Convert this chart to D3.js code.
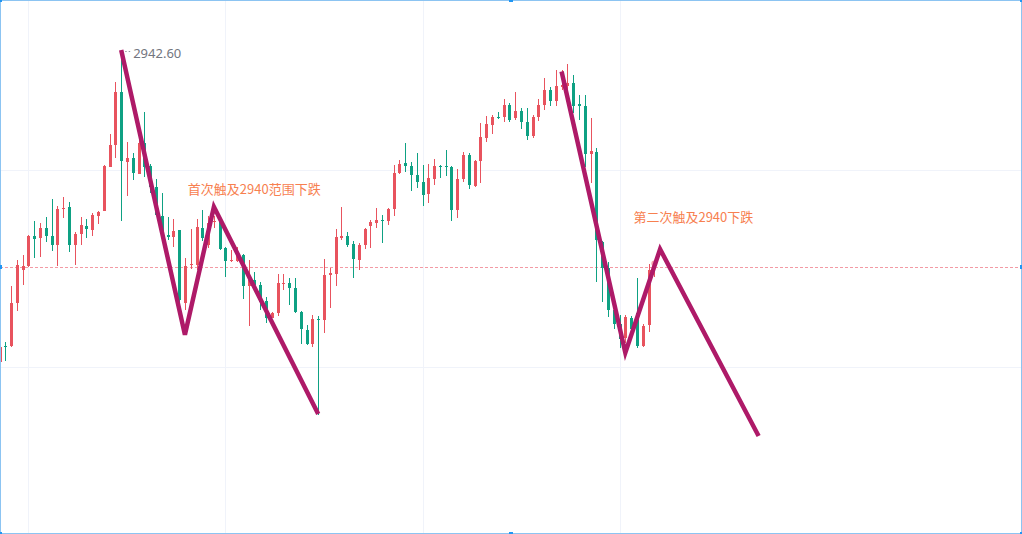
<!DOCTYPE html>
<html>
<head>
<meta charset="utf-8">
<title>K线</title>
<script src="https://cdn.jsdelivr.net/npm/d3@7/dist/d3.min.js"></script>
<style>
  html, body { margin:0; padding:0; background:#fff; overflow:hidden; }
  #chart-area { width:1022px; height:534px; }
</style>
</head>
<body>
<div id="chart-area"></div>
<script>
/*
*   K线图 + 手绘走势线
*/

// candle values, one per bar
var opens = [2934.80,2935.21,2935.20,2936.28,2937.10,2937.19,2937.95,2937.91,2938.14,2937.95,
  2937.73,2938.62,2938.68,2937.73,2938.00,2938.19,2938.10,2938.46,2938.58,2939.68,
  2940.23,2941.55,2939.80,2939.90,2939.51,2940.28,2939.70,2939.18,2938.45,2937.98,
  2937.93,2938.09,2936.28,2937.22,2937.23,2938.16,2937.73,2938.29,2938.33,2937.66,
  2937.33,2937.33,2937.48,2936.71,2936.85,2936.73,2936.33,2935.91,2936.02,2936.74,
  2936.77,2936.66,2936.06,2935.60,2935.25,2935.88,2935.86,2936.98,2936.99,2937.91,
  2937.95,2937.75,2937.35,2937.73,2938.21,2938.28,2938.35,2938.33,2938.63,2939.53,
  2939.78,2939.70,2939.48,2939.30,2939.00,2939.38,2939.71,2939.71,2939.68,2938.61,
  2939.38,2939.98,2939.21,2939.83,2940.41,2940.73,2940.92,2940.93,2941.23,2940.89,
  2941.08,2940.80,2940.45,2940.93,2941.23,2941.60,2941.33,2941.68,2941.70,2941.78,
  2941.24,2941.20,2940.01,2940.05,2937.81,2937.16,2936.10,2935.74,2935.39,2935.89,
  2936.02,2935.20,2935.73,2937.15];

var highs = [2935.25,2935.31,2936.70,2937.35,2937.48,2937.98,2938.33,2938.28,2938.43,2938.88,
  2938.69,2938.93,2938.79,2938.05,2938.43,2938.38,2938.53,2938.58,2939.73,2940.50,
  2941.79,2942.60,2940.30,2940.03,2940.35,2941.05,2939.75,2939.38,2939.03,2938.43,
  2938.38,2938.11,2937.40,2938.13,2938.37,2938.60,2938.45,2938.45,2938.35,2937.68,
  2937.59,2937.68,2937.50,2937.34,2937.05,2936.81,2936.43,2936.06,2936.99,2936.99,
  2936.89,2936.89,2936.08,2935.73,2935.98,2935.96,2937.38,2937.15,2938.13,2938.68,
  2938.05,2937.83,2937.78,2938.15,2938.35,2938.65,2938.48,2938.65,2939.72,2939.85,
  2940.27,2939.81,2940.02,2939.72,2939.75,2939.87,2939.73,2940.10,2939.70,2939.63,
  2940.05,2940.03,2939.85,2940.78,2940.96,2940.98,2941.05,2941.37,2941.28,2941.54,
  2941.14,2941.14,2940.98,2941.37,2941.90,2941.68,2942.10,2942.10,2942.25,2941.98,
  2941.48,2941.48,2940.89,2940.14,2937.83,2937.31,2936.23,2935.98,2935.98,2935.95,
  2936.89,2935.74,2937.24,2937.31];

var lows = [2934.73,2934.83,2935.17,2936.08,2936.73,2937.18,2937.41,2937.43,2937.81,2937.58,
  2937.20,2938.39,2937.56,2937.23,2937.73,2937.91,2937.96,2938.26,2938.57,2939.67,
  2939.90,2938.33,2938.96,2939.36,2939.50,2939.42,2939.03,2938.45,2937.95,2937.85,
  2937.68,2936.11,2936.10,2937.13,2937.10,2937.83,2937.65,2938.15,2937.60,2936.93,
  2937.31,2937.30,2936.37,2935.71,2936.60,2936.10,2935.77,2935.89,2935.96,2936.60,
  2936.23,2936.02,2935.25,2935.23,2935.18,2933.48,2935.53,2936.15,2936.71,2937.86,
  2937.68,2936.89,2937.10,2937.63,2937.66,2938.16,2937.78,2938.23,2938.46,2939.50,
  2939.55,2939.08,2939.16,2938.71,2938.78,2939.23,2939.41,2939.46,2938.33,2938.41,
  2939.29,2939.13,2939.18,2939.28,2940.30,2940.50,2940.87,2940.81,2940.81,2940.85,
  2940.63,2940.34,2940.41,2940.83,2941.10,2941.20,2941.20,2941.60,2941.60,2941.02,
  2940.85,2939.68,2939.28,2936.81,2936.31,2935.93,2935.62,2935.14,2935.27,2935.56,
  2935.16,2935.18,2935.56,2936.92];

var closes = [2935.18,2935.19,2936.27,2937.22,2937.19,2937.95,2937.88,2938.14,2937.95,2937.73,
  2938.63,2938.65,2937.73,2938.00,2938.22,2938.13,2938.48,2938.55,2939.70,2940.22,
  2941.55,2939.83,2939.90,2939.53,2940.28,2939.68,2939.18,2938.48,2938.00,2937.93,
  2938.08,2936.35,2937.20,2937.25,2938.17,2937.89,2938.28,2938.33,2937.63,2937.33,
  2937.36,2937.52,2936.71,2936.85,2936.73,2936.31,2935.91,2936.03,2936.77,2936.77,
  2936.66,2936.06,2935.62,2935.25,2935.88,2935.85,2936.98,2937.02,2937.93,2937.94,
  2937.73,2937.38,2937.73,2938.13,2938.31,2938.36,2938.33,2938.63,2939.52,2939.75,
  2939.70,2939.48,2939.31,2938.98,2939.40,2939.70,2939.69,2939.69,2938.60,2939.38,
  2939.98,2939.23,2939.83,2940.43,2940.75,2940.93,2940.90,2941.23,2940.85,2941.08,
  2940.80,2940.45,2940.92,2941.23,2941.60,2941.33,2941.70,2941.73,2941.78,2941.20,
  2941.21,2939.99,2940.08,2937.85,2937.16,2936.10,2935.74,2935.37,2935.92,2935.62,
  2935.20,2935.70,2937.10,2937.26];

// grid
var gridPrices = [2939.60, 2934.68];
var gridBars = [5, 39, 73, 107];
var lastPrice = 2937.18;

// drawn trend lines: [bar, price]
var trendLine1 = [[21, 2942.60], [32, 2935.48], [37, 2938.68], [55, 2933.50]];
var trendLine2 = [[97, 2942.06], [108, 2935.03], [114, 2937.62], [131, 2932.95]];

// text notes: [bar, price, text]
var notes = [[32.5, 2938.99, "首次触及2940范围下跌"], [109.4, 2938.29, "第二次触及2940下跌"]];
var highLabel = "2942.60";


CandleChart = function(_parentElement){
  var vis = this;
  vis.parentElement = _parentElement;
  vis.initVis();
};

CandleChart.prototype.initVis = function(){
  var vis = this;

  vis.width = 1022;
  vis.height = 534;

  vis.svg = d3.select(vis.parentElement)
      .append("svg")
      .attr("width", vis.width)
      .attr("height", vis.height)
      .style("display", "block");

  vis.svg.append("rect")
      .attr("width", vis.width)
      .attr("height", vis.height)
      .attr("fill", "#ffffff");

  vis.x = d3.scaleLinear().domain([0, 113]).range([-0.5, 654.3]);
  vis.y = d3.scaleLinear().domain([2930.50, 2943.85]).range([vis.height, 0]);

  vis.upColour = "#e8535e";
  vis.downColour = "#0ea183";
  vis.lineColour = "#ae1a68";

  vis.wrangleData();
};

CandleChart.prototype.wrangleData = function(){
  var vis = this;
  vis.bars = opens.map(function(o, i){
    return { i: i, o: o, h: highs[i], l: lows[i], c: closes[i] };
  });
  vis.updateVis();
};

CandleChart.prototype.updateVis = function(){
  var vis = this;
  var px = function(i){ return Math.round(vis.x(i)); };

  // grid lines
  vis.svg.append("g").selectAll("line.hgrid").data(gridPrices).enter()
      .append("line")
      .attr("x1", 0).attr("x2", vis.width)
      .attr("y1", function(d){ return Math.round(vis.y(d)) + 0.5; })
      .attr("y2", function(d){ return Math.round(vis.y(d)) + 0.5; })
      .attr("stroke", "#f0f3fa");
  vis.svg.append("g").selectAll("line.vgrid").data(gridBars).enter()
      .append("line")
      .attr("y1", 0).attr("y2", vis.height)
      .attr("x1", function(d){ return px(d) + 0.5; })
      .attr("x2", function(d){ return px(d) + 0.5; })
      .attr("stroke", "#f0f3fa");

  // last price line
  vis.svg.append("line")
      .attr("x1", 0).attr("x2", vis.width)
      .attr("y1", Math.round(vis.y(lastPrice)) + 0.5)
      .attr("y2", Math.round(vis.y(lastPrice)) + 0.5)
      .attr("stroke", "#f39aa4")
      .attr("stroke-dasharray", "3,2");

  var colour = function(d){ return d.c >= d.o ? vis.upColour : vis.downColour; };

  var candles = vis.svg.append("g").selectAll("g").data(vis.bars).enter().append("g");

  candles.append("line")
      .attr("x1", function(d){ return px(d.i) + 0.5; })
      .attr("x2", function(d){ return px(d.i) + 0.5; })
      .attr("y1", function(d){ return Math.round(vis.y(d.h)); })
      .attr("y2", function(d){ return Math.round(vis.y(d.l)); })
      .attr("stroke", colour);

  candles.append("rect")
      .attr("x", function(d){ return px(d.i) - 1; })
      .attr("width", 3)
      .attr("y", function(d){ return Math.round(vis.y(Math.max(d.o, d.c))); })
      .attr("height", function(d){
        return Math.max(1, Math.round(vis.y(Math.min(d.o, d.c))) - Math.round(vis.y(Math.max(d.o, d.c))));
      })
      .attr("fill", colour);

  // live dot on the last bar
  var last = vis.bars[vis.bars.length - 1];
  vis.svg.append("circle")
      .attr("cx", vis.x(last.i))
      .attr("cy", vis.y(last.c))
      .attr("r", 3)
      .attr("fill", "#f06a78")
      .attr("opacity", 0.6);

  // trend lines
  var line = d3.line()
      .x(function(d){ return vis.x(d[0]); })
      .y(function(d){ return vis.y(d[1]); });

  vis.svg.selectAll("path.trend").data([trendLine1, trendLine2]).enter()
      .append("path")
      .attr("class", "trend")
      .attr("d", line)
      .attr("fill", "none")
      .attr("stroke", vis.lineColour)
      .attr("stroke-width", 4.5)
      .attr("stroke-linejoin", "miter")
      .attr("stroke-linecap", "butt");

  // high label
  var top = vis.bars[21];
  vis.svg.append("line")
      .attr("x1", vis.x(top.i) + 4).attr("x2", vis.x(top.i) + 10)
      .attr("y1", vis.y(top.h) + 1.5).attr("y2", vis.y(top.h) + 1.5)
      .attr("stroke", "#9598a1")
      .attr("stroke-dasharray", "1.5,2");
  vis.svg.append("text")
      .attr("x", vis.x(top.i) + 12)
      .attr("y", vis.y(top.h) + 8)
      .attr("font-family", "'Noto Sans', sans-serif")
      .attr("font-size", "13px")
      .attr("fill", "#737680")
      .text(highLabel);

  // notes
  vis.svg.selectAll("text.note").data(notes).enter()
      .append("text")
      .attr("class", "note")
      .attr("x", function(d){ return vis.x(d[0]); })
      .attr("y", function(d){ return vis.y(d[1]); })
      .attr("font-family", "'Noto Sans CJK SC', sans-serif")
      .attr("font-size", "13px")
      .attr("fill", "#f7804f")
      .text(function(d){ return d[2]; });

  // selection frame + handles
  vis.svg.append("rect")
      .attr("x", 0.5).attr("y", 0.5)
      .attr("width", vis.width - 1).attr("height", vis.height - 1)
      .attr("fill", "none")
      .attr("stroke", "#8cc4f2");

  var handles = [[0,0],[vis.width/2,0],[vis.width,0],[vis.width,vis.height/2],
                 [vis.width,vis.height],[vis.width/2,vis.height],[0,vis.height],[0,vis.height/2]];
  vis.svg.selectAll("rect.handle").data(handles).enter()
      .append("rect")
      .attr("class", "handle")
      .attr("x", function(d){ return Math.round(d[0]) - 2; })
      .attr("y", function(d){ return Math.round(d[1]) - 2; })
      .attr("width", 4).attr("height", 4)
      .attr("fill", "#2196f3");
};

var chart = new CandleChart("#chart-area");
</script>
</body>
</html>
